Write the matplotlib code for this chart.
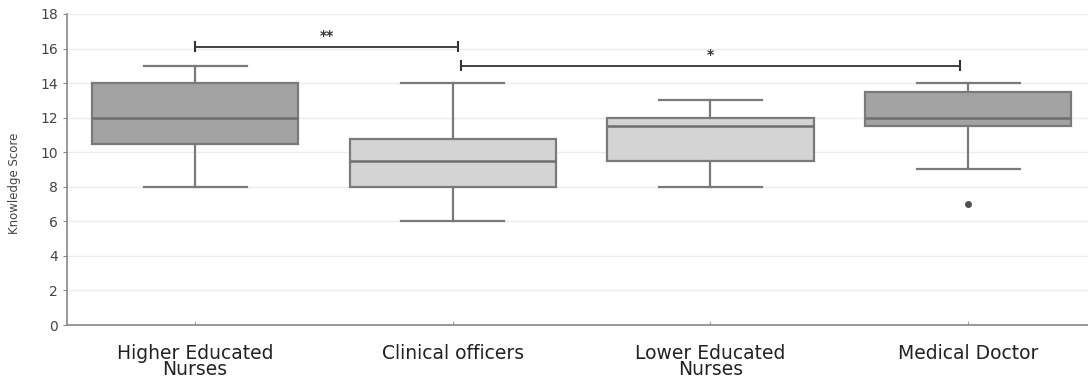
import matplotlib
matplotlib.use("Agg")
import matplotlib.pyplot as plt

groups = ["Higher Educated\nNurses", "Clinical officers", "Lower Educated\nNurses", "Medical Doctor"]
whisker_low = [8, 6, 8, 9]
q1 = [10.5, 8, 9.5, 11.5]
median = [12, 9.5, 11.5, 12]
q3 = [14, 10.75, 12, 13.5]
whisker_high = [15, 14, 13, 14]
outliers = [[], [], [], [7]]
box_colors = ["#a3a3a3", "#d4d4d4", "#d4d4d4", "#a3a3a3"]

# significance brackets: (left x, right x, height, label)
brackets = [(0.0, 1.02, 16.1, "**"), (1.03, 2.97, 15.0, "*")]

fig = plt.figure(figsize=(10.88, 3.8), dpi=100)
ax = fig.add_axes([0.0616, 0.1447, 0.9384, 0.8186])

stats = []
for i, name in enumerate(groups):
    stats.append(dict(label=name, whislo=whisker_low[i], q1=q1[i], med=median[i],
                      q3=q3[i], whishi=whisker_high[i], fliers=outliers[i]))

edge = "#7a7a7a"
bp = ax.bxp(stats, positions=range(len(groups)), widths=0.8, patch_artist=True,
            showfliers=True,
            boxprops=dict(edgecolor=edge, linewidth=1.6),
            medianprops=dict(color="#6e6e6e", linewidth=1.8),
            whiskerprops=dict(color=edge, linewidth=1.6),
            capprops=dict(color=edge, linewidth=1.6),
            capwidths=0.4,
            flierprops=dict(marker="o", markersize=4, markerfacecolor="#505050",
                            markeredgecolor="#505050"))
for patch, c in zip(bp["boxes"], box_colors):
    patch.set_facecolor(c)

for xa, xb, h, lab in brackets:
    ax.plot([xa, xb], [h, h], color="#333333", linewidth=1.3)
    ax.plot([xa, xa], [h - 0.25, h + 0.25], color="#333333", linewidth=1.5)
    ax.plot([xb, xb], [h - 0.25, h + 0.25], color="#333333", linewidth=1.5)
    ax.text((xa + xb) / 2, h + 0.2, lab, ha="center", va="bottom",
            fontsize=10, color="#333333", fontweight="bold")

ax.set_xlim(-0.497, 3.465)
ax.set_ylim(0, 18)
ax.set_yticks(range(0, 19, 2))
ax.yaxis.grid(True, color="#ececec", linewidth=1.0)
ax.set_axisbelow(True)
ax.set_xticks(range(len(groups)))
ax.set_xticklabels(groups, fontsize=13.5, color="#222222", linespacing=0.8,
                   family=["DejaVu Sans"])
ax.tick_params(axis="x", direction="in", length=3, color="#aaaaaa", pad=14)
ax.tick_params(axis="y", direction="out", length=3, color="#888888",
               labelsize=10, labelcolor="#444444")
for s in ["top", "right"]:
    ax.spines[s].set_visible(False)
for s in ["left", "bottom"]:
    ax.spines[s].set_color("#888888")
    ax.spines[s].set_linewidth(1.2)
ax.set_ylabel("Knowledge Score", fontsize=8.5, color="#444444",
              family=["Liberation Sans Narrow", "DejaVu Sans"])
ax.yaxis.set_label_coords(-0.045, 0.457)

fig.savefig("out.png", dpi=100)
